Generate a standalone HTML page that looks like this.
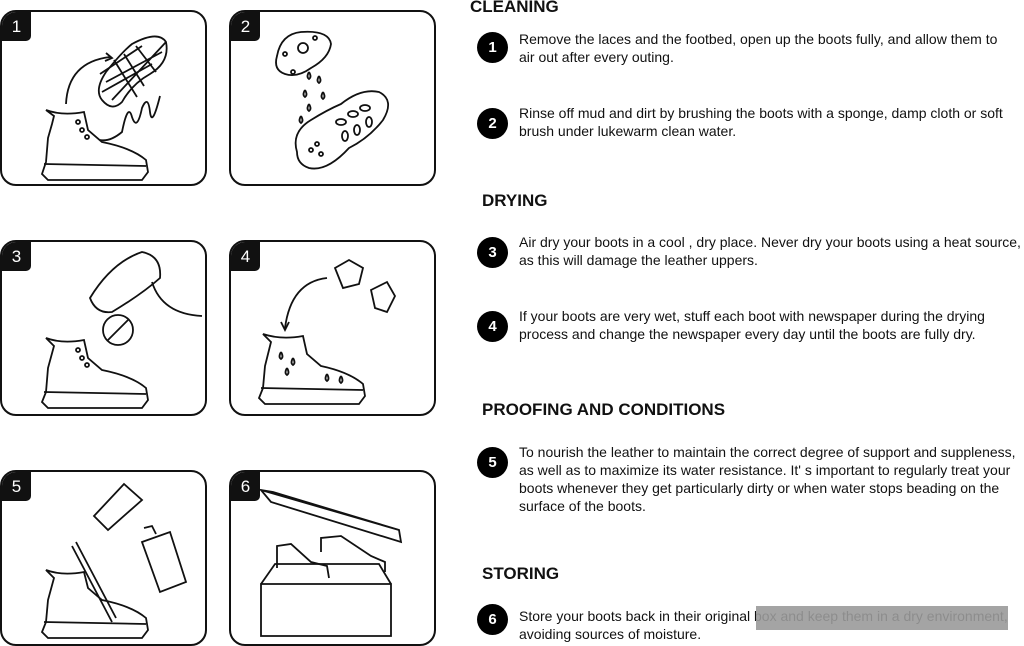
<!DOCTYPE html>
<html><head><style>
body{margin:0;width:1024px;height:646px;background:#fff;position:relative;overflow:hidden;font-family:"Liberation Sans",Arial,sans-serif;color:#111}
.box{position:absolute;width:207px;height:176px;border:2.5px solid #111;border-radius:16px;box-sizing:border-box;overflow:hidden}
.tab{position:absolute;left:0;top:0;width:29px;height:29px;background:#111;color:#fff;font-size:17px;line-height:29px;text-align:center;border-bottom-right-radius:5px}
.box svg{position:absolute;left:0;top:0}
h2{position:absolute;margin:0;font-size:17px;font-weight:bold}
.c{position:absolute;left:477px;width:31px;height:31px;border-radius:50%;background:#000;color:#fff;font-weight:bold;font-size:15px;line-height:31px;text-align:center}
.t{position:absolute;left:519px;font-size:14px;line-height:18px;width:510px;white-space:nowrap}
</style></head><body>
<div class="box" style="left:0px;top:10px"><div class="tab">1</div>
<svg width="207" height="176" fill="none" stroke="#111" stroke-width="1.8">
<path d="M64 92 Q66 50 108 45"/><path d="M104 41 L110 46 L103 49"/>
<path d="M100 88 Q92 78 104 60 Q120 40 130 32 Q156 18 164 30 Q168 50 148 62 Q130 72 120 90 Q110 100 100 88Z"/>
<path d="M104 70 L160 40 M100 80 L150 52 M110 88 L164 30 M98 62 L140 34 M112 48 L135 85 M122 42 L142 74 M134 34 L154 60"/>
<path d="M44 98 L52 104 L50 112 L46 126 L44 150 L40 162 L46 168 L140 168 L146 160 L144 148 Q130 136 100 130 L86 118 L82 100 Q60 104 44 98Z"/>
<path d="M42 152 L144 154"/>
<path d="M98 128 Q108 130 120 120 Q126 90 130 105 Q135 120 140 96 Q146 82 148 100 Q150 116 158 84"/>
<circle cx="76" cy="110" r="2"/><circle cx="80" cy="118" r="2"/><circle cx="85" cy="125" r="2"/>
</svg></div>
<div class="box" style="left:229px;top:10px"><div class="tab">2</div>
<svg width="207" height="176" fill="none" stroke="#111" stroke-width="1.8">
<path d="M46 44 Q50 22 70 20 Q98 18 100 32 Q98 46 80 56 Q66 66 54 62 Q42 58 46 44Z"/>
<circle cx="72" cy="36" r="5"/><circle cx="84" cy="26" r="2"/><circle cx="54" cy="42" r="2"/><circle cx="62" cy="60" r="2"/>
<path d="M78 60 q-3 5 0 7 q3-2 0-7 M88 64 q-3 5 0 7 q3-2 0-7 M74 78 q-3 5 0 7 q3-2 0-7 M92 80 q-3 5 0 7 q3-2 0-7 M78 92 q-3 5 0 7 q3-2 0-7 M70 104 q-3 5 0 7 q3-2 0-7"/>
<path d="M66 140 Q60 120 80 108 Q96 98 110 92 Q130 76 148 80 Q164 88 152 108 Q138 126 118 136 Q96 160 78 156 Q66 152 66 140Z"/>
<ellipse cx="110" cy="110" rx="5" ry="3"/><ellipse cx="122" cy="102" rx="5" ry="3"/><ellipse cx="134" cy="96" rx="5" ry="3"/><ellipse cx="114" cy="124" rx="3" ry="5"/><ellipse cx="126" cy="118" rx="3" ry="5"/><ellipse cx="138" cy="110" rx="3" ry="5"/>
<circle cx="80" cy="138" r="2"/><circle cx="86" cy="132" r="2"/><circle cx="90" cy="142" r="2"/>
</svg></div>
<div class="box" style="left:0px;top:240px"><div class="tab">3</div>
<svg width="207" height="176" fill="none" stroke="#111" stroke-width="1.8">
<path d="M88 56 Q110 20 140 10 Q160 14 158 36 Q140 52 110 70 Q94 72 88 56Z"/><path d="M150 40 Q160 72 200 74"/>
<circle cx="116" cy="88" r="15"/><path d="M106 98 L126 78"/>
<path d="M44 96 L52 104 L46 126 L44 150 L40 160 L46 166 L140 166 L146 158 L144 146 Q130 134 100 128 L86 116 L82 98 Q60 102 44 96Z"/><path d="M42 150 L144 152"/>
<circle cx="76" cy="108" r="2"/><circle cx="80" cy="116" r="2"/><circle cx="85" cy="123" r="2"/>
</svg></div>
<div class="box" style="left:229px;top:240px"><div class="tab">4</div>
<svg width="207" height="176" fill="none" stroke="#111" stroke-width="1.8">
<path d="M104 26 L118 18 L132 26 L128 42 L112 46Z"/><path d="M140 48 L156 40 L164 54 L156 70 L144 66Z"/>
<path d="M96 36 Q60 40 54 86"/><path d="M50 80 L54 88 L58 80"/>
<path d="M32 92 L40 100 L34 124 L32 146 L28 156 L34 162 L128 162 L134 154 L132 142 Q118 130 90 124 L76 112 L72 94 Q50 98 32 92Z"/><path d="M30 146 L132 148"/>
<path d="M50 110 q-3 5 0 7 q3-2 0-7 M62 116 q-3 5 0 7 q3-2 0-7 M96 132 q-3 5 0 7 q3-2 0-7 M110 134 q-3 5 0 7 q3-2 0-7 M56 126 q-3 5 0 7 q3-2 0-7"/>
</svg></div>
<div class="box" style="left:0px;top:470px"><div class="tab">5</div>
<svg width="207" height="176" fill="none" stroke="#111" stroke-width="1.8">
<path d="M92 44 L122 12 L140 28 L106 58Z"/>
<path d="M70 74 L110 150 M74 70 L114 146"/>
<path d="M140 70 L168 60 L184 110 L158 120Z"/><path d="M142 56 L150 54 L154 62"/>
<path d="M44 98 L52 106 L46 128 L44 150 L40 160 L46 166 L140 166 L146 158 L144 146 Q130 134 100 128 L86 116 L82 100 Q60 104 44 98Z"/><path d="M42 150 L144 152"/>
</svg></div>
<div class="box" style="left:229px;top:470px"><div class="tab">6</div>
<svg width="207" height="176" fill="none" stroke="#111" stroke-width="1.8">
<path d="M30 18 L40 30 L170 70 L168 58 L42 20Z M30 18 L168 58"/>
<path d="M30 112 L160 112 L160 164 L30 164Z M30 112 L44 92 L148 92 L160 112"/>
<path d="M46 96 L46 74 L60 72 L80 90 L96 94 L98 106 M90 80 L90 66 L110 64 L140 84 L154 90 L154 100"/>
</svg></div>

<h2 style="left:470px;top:-3px">CLEANING</h2>
<h2 style="left:482px;top:191px">DRYING</h2>
<h2 style="left:482px;top:400px">PROOFING AND CONDITIONS</h2>
<h2 style="left:482px;top:564px">STORING</h2>

<div class="c" style="top:32px">1</div>
<div class="t" style="top:30px">Remove the laces and the footbed, open up the boots fully, and allow them to<br>air out after every outing.</div>
<div class="c" style="top:108px">2</div>
<div class="t" style="top:104px">Rinse off mud and dirt by brushing the boots with a sponge, damp cloth or soft<br>brush under lukewarm clean water.</div>
<div class="c" style="top:237px">3</div>
<div class="t" style="top:233px">Air dry your boots in a cool , dry place. Never dry your boots using a heat source,<br>as this will damage the leather uppers.</div>
<div class="c" style="top:311px">4</div>
<div class="t" style="top:307px">If your boots are very wet, stuff each boot with newspaper during the drying<br>process and change the newspaper every day until the boots are fully dry.</div>
<div class="c" style="top:447px">5</div>
<div class="t" style="top:443px">To nourish the leather to maintain the correct degree of support and suppleness,<br>as well as to maximize its water resistance. It' s important to regularly treat your<br>boots whenever they get particularly dirty or when water stops beading on the<br>surface of the boots.</div>
<div class="c" style="top:604px">6</div>
<div class="t" style="top:607px">Store your boots back in their original box and keep them in a dry environment,<br>avoiding sources of moisture.</div>
<div style="position:absolute;left:756px;top:606px;width:252px;height:24px;background:#9a9a9a;opacity:.9"></div>
</body></html>
